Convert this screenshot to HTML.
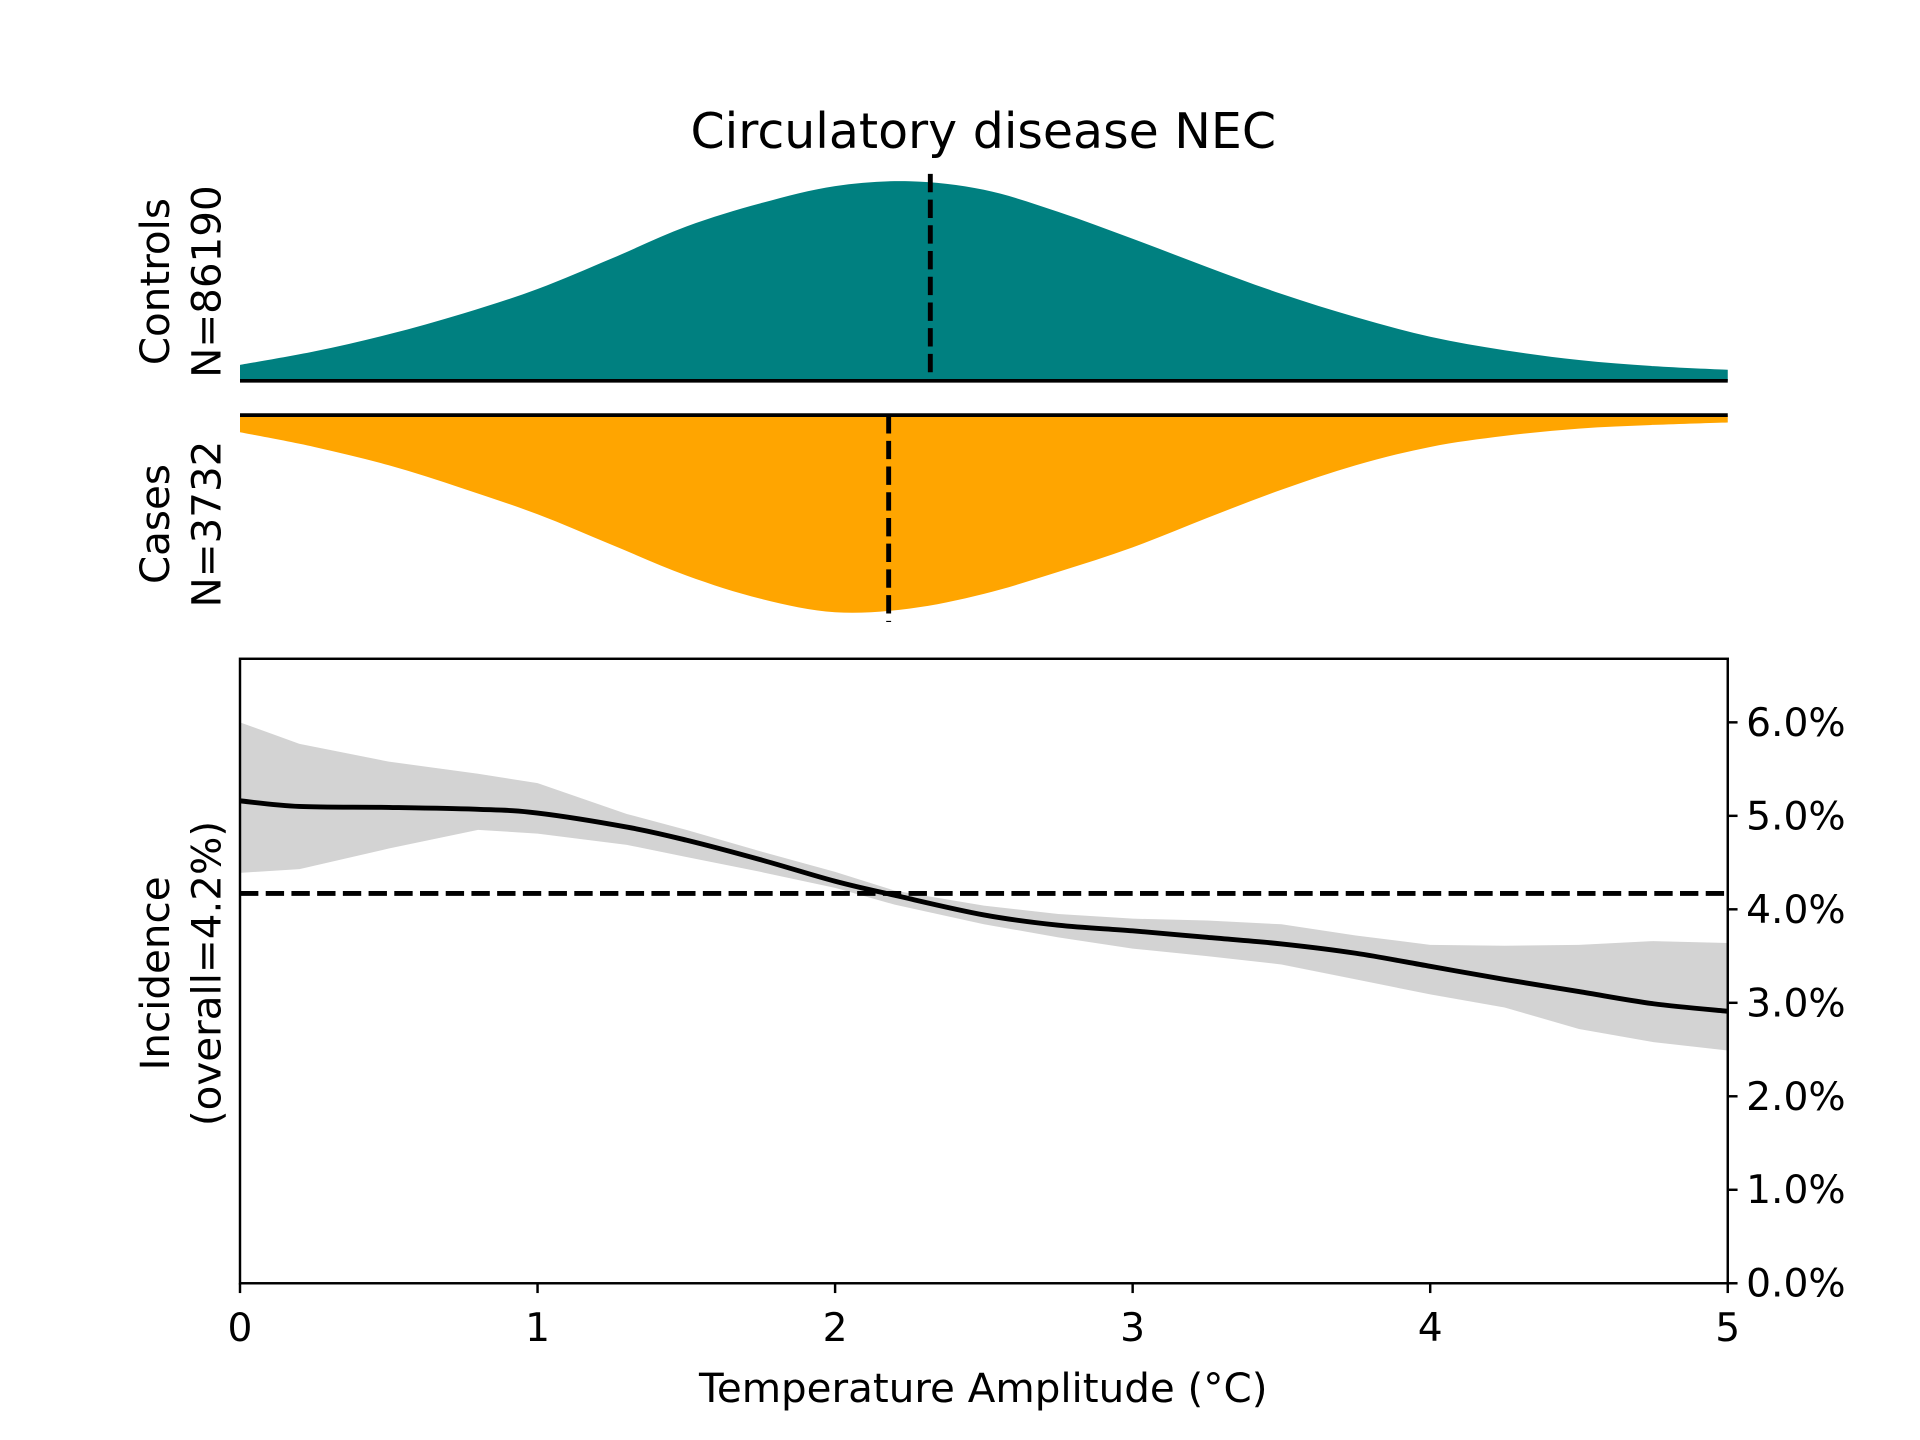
<!DOCTYPE html>
<html><head><meta charset="utf-8"><style>
html,body{margin:0;padding:0;background:#fff;}
svg{display:block;font-family:"DejaVu Sans","Liberation Sans",sans-serif;}
</style></head><body>
<svg id="chart" width="1920" height="1440" viewBox="0 0 1568 1176" xmlns="http://www.w3.org/2000/svg">
<text x="803" y="121" font-size="40" text-anchor="middle">Circulatory disease NEC</text>
<g transform="translate(138,230) rotate(-90)"><text font-size="33" text-anchor="middle" y="0">Controls</text><text font-size="33" text-anchor="middle" y="42">N=86190</text></g>
<g transform="translate(138,428) rotate(-90)"><text font-size="33" text-anchor="middle" y="0">Cases</text><text font-size="33" text-anchor="middle" y="42">N=3732</text></g>
<g transform="translate(138,795) rotate(-90)"><text font-size="33" text-anchor="middle" y="0">Incidence</text><text font-size="33" text-anchor="middle" y="42">(overall=4.2%)</text></g>
<text x="803" y="1145" font-size="33" text-anchor="middle">Temperature Amplitude (°C)</text>
<g id="plots"></g>
</svg>
<script>
const xs = [0,0.25,0.5,0.75,1,1.25,1.5,1.75,2,2.25,2.5,2.75,3,3.25,3.5,3.75,4,4.25,4.5,4.75,5];
const controlsDensity = [13,24,38,55,75,100,126,145,159,163,156,138,116,93,71,52,36,25,17,12,9];
const casesDensity = [14,26,41,60,81,106,131,150,161,158,146,128,108,84,61,41,26,17,11,8,6];
const controlsMean = 2.32;
const casesMean = 2.18;
const incX = [0,0.2,0.5,0.8,1,1.3,1.5,1.75,2,2.2,2.5,2.75,3,3.25,3.5,3.75,4,4.25,4.5,4.75,5];
const incMean = [5.16,5.10,5.09,5.07,5.03,4.88,4.74,4.53,4.30,4.15,3.94,3.83,3.77,3.70,3.63,3.53,3.39,3.25,3.12,2.99,2.91];
const incUpper = [6.0,5.77,5.58,5.45,5.35,5.02,4.85,4.62,4.40,4.20,4.04,3.95,3.90,3.88,3.84,3.72,3.62,3.61,3.62,3.66,3.64];
const incLower = [4.39,4.43,4.65,4.85,4.81,4.69,4.56,4.40,4.23,4.05,3.84,3.70,3.58,3.50,3.41,3.25,3.09,2.95,2.72,2.58,2.49];
const overall = 4.17;
const xTicks = [0,1,2,3,4,5];
const yTicks = [0,1,2,3,4,5,6];
const yTickLabels = ["0.0%","1.0%","2.0%","3.0%","4.0%","5.0%","6.0%"];

const NS="http://www.w3.org/2000/svg";
const g=document.getElementById('plots');
const L=196,R=1411,T=538,B=1048,YMAX=6.68;
const sx=v=>L+(v-0)/5*(R-L);
const sy=v=>B-v/YMAX*(B-T);
const cBase=311,kBase=339;
function el(tag,attrs){const e=document.createElementNS(NS,tag);for(const k in attrs)e.setAttribute(k,attrs[k]);g.appendChild(e);return e;}
function smooth(pts){let d='M'+pts[0][0]+','+pts[0][1];for(let i=0;i<pts.length-1;i++){const p0=pts[i-1]||pts[i],p1=pts[i],p2=pts[i+1],p3=pts[i+2]||p2;const c1x=p1[0]+(p2[0]-p0[0])/6,c1y=p1[1]+(p2[1]-p0[1])/6,c2x=p2[0]-(p3[0]-p1[0])/6,c2y=p2[1]-(p3[1]-p1[1])/6;d+=` C${c1x},${c1y} ${c2x},${c2y} ${p2[0]},${p2[1]}`;}return d;}

let pts=xs.map((x,i)=>[sx(x),cBase-controlsDensity[i]]);
let a=el('path',{d:smooth(pts)+` L${sx(5)},${cBase} L${sx(0)},${cBase} Z`,fill:'#008080'});


a=el('line',{x1:L,x2:R,y1:cBase,y2:cBase,stroke:'#000','stroke-width':3});


a=el('line',{x1:sx(controlsMean),x2:sx(controlsMean),y1:142,y2:311,stroke:'#000','stroke-width':4,'stroke-dasharray':'15,6'});


pts=xs.map((x,i)=>[sx(x),kBase+casesDensity[i]]);
a=el('path',{d:smooth(pts)+` L${sx(5)},${kBase} L${sx(0)},${kBase} Z`,fill:'#FFA500'});


a=el('line',{x1:L,x2:R,y1:kBase,y2:kBase,stroke:'#000','stroke-width':3});


a=el('line',{x1:sx(casesMean),x2:sx(casesMean),y1:339,y2:508,stroke:'#000','stroke-width':4,'stroke-dasharray':'15,6'});


const up=incX.map((x,i)=>[sx(x),sy(incUpper[i])]);
const lo=incX.map((x,i)=>[sx(x),sy(incLower[i])]).reverse();
a=el('path',{d:'M'+up.map(p=>p.join(',')).join(' L')+' L'+lo.map(p=>p.join(',')).join(' L')+' Z',fill:'#d3d3d3'});


a=el('path',{d:smooth(incX.map((x,i)=>[sx(x),sy(incMean[i])])),fill:'none',stroke:'#000','stroke-width':4});


a=el('line',{x1:L,x2:R,y1:sy(overall),y2:sy(overall),stroke:'#000','stroke-width':4,'stroke-dasharray':'15,6'});


a=el('rect',{x:L,y:T,width:R-L,height:B-T,fill:'none',stroke:'#000','stroke-width':2});


xTicks.forEach(v=>{
  let t=el('line',{x1:sx(v),x2:sx(v),y1:B,y2:B+8,stroke:'#000','stroke-width':2});
  
  
  t=el('text',{x:sx(v),y:B+47,'font-size':32,'text-anchor':'middle'});t.textContent=v;
  
  
});
yTicks.forEach((v,i)=>{
  let t=el('line',{x1:R,x2:R+8,y1:sy(v),y2:sy(v),stroke:'#000','stroke-width':2});
  
  
  t=el('text',{x:R+15,y:sy(v)+11,'font-size':32});t.textContent=yTickLabels[i];
  
  
});
</script>
</body></html>
